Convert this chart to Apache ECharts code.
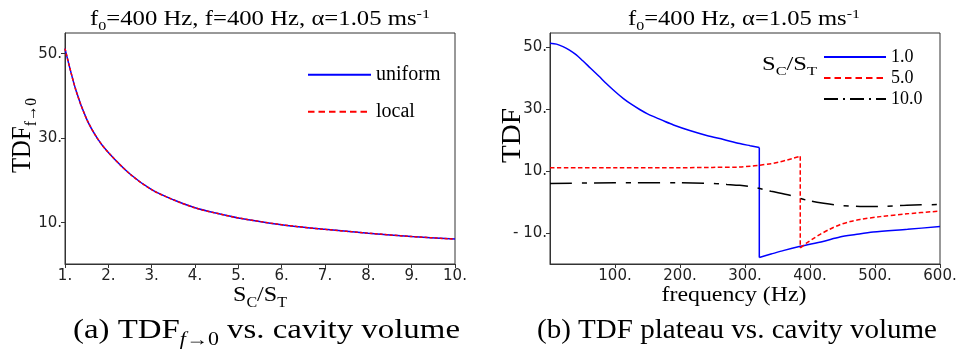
<!DOCTYPE html>
<html><head><meta charset="utf-8">
<script src="https://cdn.jsdelivr.net/npm/echarts@6/dist/echarts.min.js"></script>
<style>html,body{margin:0;padding:0;background:#fff}#c{width:960px;height:353px}</style>
</head><body><div id="c"></div>
<script>
// ---------- data ----------
// (a) TDF_{f->0} vs S_C/S_T
const sRatio     = [1, 1.25, 1.5, 1.75, 2, 2.5, 3, 3.5, 4, 4.5, 5, 6, 7, 8, 9, 10];
const tdfUniform = [51.2, 41.4, 34.5, 29.9, 26.6, 21.5, 17.8, 15.4, 13.5, 12.2, 11.1, 9.5, 8.4, 7.5, 6.7, 6.1];
const tdfLocal   = [51.2, 41.4, 34.5, 29.9, 26.6, 21.5, 17.8, 15.4, 13.5, 12.2, 11.1, 9.5, 8.4, 7.5, 6.7, 6.1];
const sTicks     = [1, 2, 3, 4, 5, 6, 7, 8, 9, 10];
const tdf0Ticks  = [10, 30, 50];

// (b) TDF vs frequency, S_C/S_T = 1.0 / 5.0 / 10.0 (each curve before and after its jump)
const freq1A = [0, 10, 20, 30, 40, 50, 62, 75, 87, 100, 113, 125, 138, 150, 164, 177, 190, 215, 241, 267, 292, 308, 322];
const tdf1A  = [51.3, 51.0, 50.2, 49.1, 47.6, 45.7, 43.3, 40.7, 38.2, 35.7, 33.4, 31.6, 29.9, 28.5, 27.2, 26.0, 24.9, 23.1, 21.5, 20.2, 18.9, 18.2, 17.6];
const freq1B = [322, 340, 360, 385, 420, 446, 470, 497, 550, 600];
const tdf1B  = [-17.9, -16.8, -15.6, -14.3, -12.7, -11.3, -10.5, -9.7, -8.8, -7.9];

const freq5A = [0, 100, 200, 250, 292, 308, 322, 340, 352, 365, 375, 385];
const tdf5A  = [11.1, 11.1, 11.1, 11.2, 11.3, 11.6, 11.9, 12.4, 12.9, 13.6, 14.2, 14.8];
const freq5B = [385, 395, 405, 415, 430, 446, 462, 477, 508, 549, 600];
const tdf5B  = [-14.8, -13.2, -11.8, -10.5, -8.8, -7.3, -6.3, -5.6, -4.7, -3.8, -2.9];

const freq10 = [0, 100, 200, 250, 272, 292, 313, 340, 369, 395, 421, 446, 477, 508, 549, 600];
const tdf10  = [6.0, 6.2, 6.2, 6.0, 5.7, 5.4, 4.8, 3.5, 2.2, 0.6, -0.4, -1.1, -1.4, -1.4, -1.0, -0.8];

const freqTicks = [100, 200, 300, 400, 500, 600];
const tdfTicks  = [-10, 10, 30, 50];

const legendA = ['uniform', 'local'];
const legendB = ['1.0', '5.0', '10.0'];

// ---------- helpers ----------
const BLUE = '#0000ff', RED = '#ff0000', BLACK = '#000000', FRAME = '#333333';
const SERIF = "'Liberation Serif', 'Times New Roman', serif";
const SANS = "'DejaVu Sans', sans-serif";
const CLEAR = 'rgba(0,0,0,0)';
const pairs = (xs, ys) => xs.map((x, i) => [x, ys[i]]);
const mctx = document.createElement('canvas').getContext('2d');
function fontOf(p) { return (p[3] ? 'italic ' : '') + p[1] + 'px ' + SERIF; }
function rtext(parts, o) {
  let x = 0; const items = [];
  parts.forEach(p => { mctx.font = fontOf(p); const w = mctx.measureText(p[0]).width; items.push({ p, x }); x += w; });
  const total = x;
  const sc = o.width ? o.width / total : 1;
  const start = o.align === 'center' ? -total / 2 : 0;
  const children = items.map(it => ({
    type: 'text', x: start + it.x, y: (it.p[2] || 0) - 0.34 * it.p[1], silent: true,
    style: { text: it.p[0], font: fontOf(it.p), fill: '#000',
             align: 'left', verticalAlign: 'middle', textAlign: 'left', textVerticalAlign: 'middle' }
  }));
  const g = { type: 'group', x: o.x, y: o.y, children, silent: true };
  if (o.rotate) g.rotation = Math.PI / 2;
  g.scaleX = sc; g.scaleY = o.cross || 1;
  return g;
}
function lineSeries(name, xi, xs, ys, color, type, smooth) {
  return { type: 'line', name, xAxisIndex: xi, yAxisIndex: xi, data: pairs(xs, ys),
    symbol: 'none', showSymbol: false, smooth: smooth ? 0.3 : false,
    color, itemStyle: { color }, lineStyle: { color, width: 1.5, type },
    emphasis: { disabled: true }, silent: true, animation: false };
}
const fmtNum = v => (v < 0 ? '- ' + Math.abs(v) : String(v)) + '.';
function axisCommon(ticks, isX) {
  return {
    axisLine: { show: true, onZero: false, lineStyle: { color: FRAME, width: 1 } },
    axisTick: { show: true, inside: false, length: 4, customValues: ticks, lineStyle: { color: FRAME, width: 1 } },
    axisLabel: { customValues: ticks, formatter: fmtNum, fontFamily: SANS, fontSize: 15, color: '#222', margin: isX ? 5 : 3 },
    splitLine: { show: false }
  };
}

const dashRed = [4.5, 2.5];
const dashDot = [22, 10, 5, 7];

const series = [
  lineSeries('uniform', 0, sRatio, tdfUniform, BLUE, 'solid', true),
  lineSeries('local', 0, sRatio, tdfLocal, RED, [3, 2], true),
  lineSeries('1.0', 1, freq1A, tdf1A, BLUE, 'solid', true),
  lineSeries('1.0', 1, [freq1A[freq1A.length - 1], freq1B[0]], [tdf1A[tdf1A.length - 1], tdf1B[0]], BLUE, 'solid', false),
  lineSeries('1.0', 1, freq1B, tdf1B, BLUE, 'solid', true),
  lineSeries('5.0', 1, freq5A, tdf5A, RED, dashRed, true),
  lineSeries('5.0', 1, [freq5A[freq5A.length - 1], freq5B[0]], [tdf5A[tdf5A.length - 1], tdf5B[0]], RED, dashRed, false),
  lineSeries('5.0', 1, freq5B, tdf5B, RED, dashRed, true),
  lineSeries('10.0', 1, freq10, tdf10, BLACK, dashDot, true)
];

const legendItemStyle = { color: CLEAR, borderColor: CLEAR, borderWidth: 0, opacity: 0 };
const option = {
  animation: false,
  backgroundColor: '#ffffff',
  grid: [
    { left: 65, top: 33, width: 390, height: 231, show: true, borderColor: FRAME, borderWidth: 1, backgroundColor: 'transparent' },
    { left: 550, top: 33, width: 390, height: 231, show: true, borderColor: FRAME, borderWidth: 1, backgroundColor: 'transparent' }
  ],
  xAxis: [
    Object.assign({ type: 'value', gridIndex: 0, min: 1, max: 10 }, axisCommon(sTicks, true)),
    Object.assign({ type: 'value', gridIndex: 1, min: 0, max: 600 }, axisCommon(freqTicks, true))
  ],
  yAxis: [
    Object.assign({ type: 'value', gridIndex: 0, min: 0.2, max: 54.9 }, axisCommon(tdf0Ticks, false)),
    Object.assign({ type: 'value', gridIndex: 1, min: -20, max: 54.6 }, axisCommon(tdfTicks, false))
  ],
  legend: [
    { data: [{ name: legendA[0] }, { name: legendA[1], lineStyle: { type: [6.5, 4] } }],
      orient: 'vertical', left: 307, top: 62.7, padding: 0, itemWidth: 63, itemHeight: 10, itemGap: 13,
      selectedMode: false, lineStyle: { width: 2 }, itemStyle: legendItemStyle,
      textStyle: { fontFamily: SERIF, fontSize: 20, lineHeight: 20, color: '#000', padding: [0, 0, 4, 0] } },
    { data: [{ name: legendB[0] }, { name: legendB[1], lineStyle: { type: [6.5, 4] } }, { name: legendB[2], lineStyle: { type: [14, 5, 2, 5] } }],
      orient: 'vertical', left: 823, top: 46.5, padding: 0, itemWidth: 62, itemHeight: 10, itemGap: 0,
      selectedMode: false, lineStyle: { width: 2 }, itemStyle: legendItemStyle,
      textStyle: { fontFamily: SERIF, fontSize: 18, lineHeight: 19, color: '#000', padding: [0, 0, 2, 0] } }
  ],
  series,
  graphic: [
    rtext([['f', 20], ['0', 13, 4], ['=400 Hz, f=400 Hz, α=1.05 ms', 20], ['-1', 13, -8]], { x: 260, y: 27, align: 'center', width: 340 }),
    rtext([['f', 20], ['0', 13, 4], ['=400 Hz, α=1.05 ms', 20], ['-1', 13, -8]], { x: 744, y: 27, align: 'center', width: 232 }),
    rtext([['TDF', 24], ['f→0', 15, 5]], { x: 32, y: 173, rotate: true, width: 75, cross: 1.15 }),
    rtext([['TDF', 24]], { x: 522, y: 163, rotate: true, width: 55, cross: 1.15 }),
    rtext([['S', 21], ['C', 14, 5], ['/S', 21], ['T', 14, 5]], { x: 260, y: 303, align: 'center', width: 54 }),
    rtext([['frequency (Hz)', 21]], { x: 734, y: 303, align: 'center', width: 145 }),
    rtext([['S', 18], ['C', 12, 4], ['/S', 18], ['T', 12, 4]], { x: 762, y: 71.7, width: 55 }),
    rtext([['(a) TDF', 27], ['f', 18, 6, true], ['→0', 18, 6], [' vs. cavity volume', 27]], { x: 266.5, y: 340, align: 'center', width: 387 }),
    rtext([['(b) TDF plateau vs. cavity volume', 27]], { x: 737, y: 340, align: 'center', width: 400 })
  ]
};
const chart = echarts.init(document.getElementById('c'), null, { renderer: 'canvas' });
chart.setOption(option);
</script>
</body></html>
